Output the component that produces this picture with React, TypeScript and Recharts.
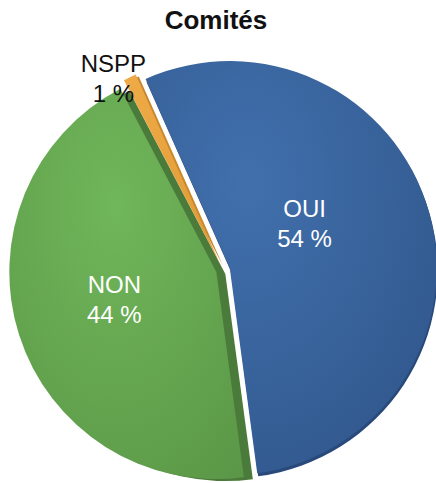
import React from "react";
import { PieChart, Pie, Cell, Sector } from "recharts";

const categories = ["OUI", "NON", "NSPP"];
const values = [54, 44, 1];
const title = "Comités";

const fills = ["url(#gBlue)", "url(#gGreen)", "url(#gOrange)"];
const sideStyles = [
  { dx: 1, dy: 3, color: "#28497a" },
  { dx: 9, dy: 2, color: "#4b7b3b" },
  { dx: 3, dy: 2, color: "#c8882c" },
];
const labelNudges = [
  { dx: -18, dy: -19 },
  { dx: -10, dy: -2 },
  { dx: -16, dy: 2 },
];
const data = categories.map((name, i) => ({ name, value: values[i] }));

const RAD = Math.PI / 180;
const EXPLODE = 7;
const FONT = "'Liberation Sans', Arial, Helvetica, sans-serif";

const indexOfName = (props: any) => {
  const name = props.name ?? props.payload?.name;
  return Math.max(0, categories.indexOf(name));
};

const renderShape = (props: any) => {
  const { cx, cy, midAngle, fill } = props;
  const side = sideStyles[indexOfName(props)];
  const dx = EXPLODE * Math.cos(-midAngle * RAD);
  const dy = EXPLODE * Math.sin(-midAngle * RAD);
  return (
    <g>
      <Sector {...props} cx={cx + dx + side.dx} cy={cy + dy + side.dy} fill={side.color} stroke="none" />
      <Sector {...props} cx={cx + dx} cy={cy + dy} fill={fill} stroke="none" />
    </g>
  );
};

const renderLabel = (props: any) => {
  const { cx, cy, midAngle, outerRadius, percent, name, value } = props;
  const outside = percent < 0.05;
  const nudge = labelNudges[indexOfName(props)];
  const r = outside ? outerRadius + 8 : outerRadius * 0.5;
  const x = cx + r * Math.cos(-midAngle * RAD) + nudge.dx;
  const y = cy + r * Math.sin(-midAngle * RAD) + nudge.dy;
  const color = outside ? "#111" : "#fff";
  return (
    <text x={x} y={y} fill={color} textAnchor="middle" fontFamily={FONT} fontSize={24}>
      <tspan x={x} y={y - 6}>{name}</tspan>
      <tspan x={x} y={y + 24}>{`${value} %`}</tspan>
    </text>
  );
};

export default function App() {
  return (
    <div style={{ position: "absolute", left: 0, top: 0, width: 436, height: 483, background: "#fff" }}>
      <div
        style={{
          position: "absolute",
          top: 7,
          left: 0,
          width: 432,
          textAlign: "center",
          fontFamily: FONT,
          fontWeight: "bold",
          fontSize: 26,
          lineHeight: "27px",
          color: "#111",
        }}
      >
        {title}
      </div>
      <PieChart width={436} height={483}>
        <defs>
          <radialGradient id="gBlue" cx="0.35" cy="0.3" r="0.9">
            <stop offset="0%" stopColor="#4170ad" />
            <stop offset="100%" stopColor="#2f5589" />
          </radialGradient>
          <radialGradient id="gGreen" cx="0.45" cy="0.3" r="0.9">
            <stop offset="0%" stopColor="#70b65a" />
            <stop offset="100%" stopColor="#5a9646" />
          </radialGradient>
          <linearGradient id="gOrange" x1="0" y1="0" x2="1" y2="1">
            <stop offset="0%" stopColor="#efab47" />
            <stop offset="100%" stopColor="#e09a36" />
          </linearGradient>
        </defs>
        <Pie
          data={data}
          dataKey="value"
          nameKey="name"
          cx={218}
          cy={265}
          outerRadius={207}
          startAngle={114}
          endAngle={-246}
          isAnimationActive={false}
          labelLine={false}
          label={renderLabel}
          shape={renderShape}
          stroke="none"
        >
          {data.map((d, i) => (
            <Cell key={d.name} fill={fills[i]} />
          ))}
        </Pie>
      </PieChart>
    </div>
  );
}
